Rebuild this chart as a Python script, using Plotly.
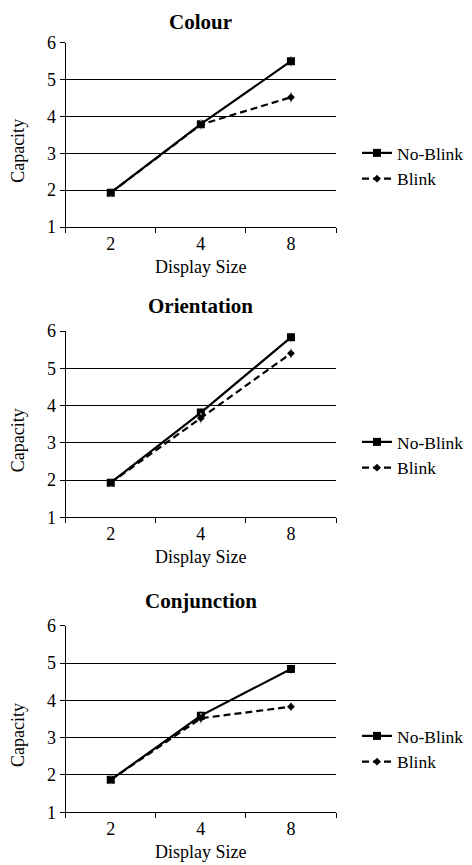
import plotly.graph_objects as go

display_sizes = ["2", "4", "8"]
panels = ["Colour", "Orientation", "Conjunction"]
no_blink = {
    "Colour": [1.93, 3.79, 5.50],
    "Orientation": [1.93, 3.81, 5.83],
    "Conjunction": [1.87, 3.59, 4.84],
}
blink = {
    "Colour": [1.93, 3.78, 4.52],
    "Orientation": [1.93, 3.66, 5.40],
    "Conjunction": [1.87, 3.52, 3.83],
}
no_blink_err = {
    "Colour": [0.12, 0.12, 0.14],
    "Orientation": [0.12, 0.12, 0.12],
    "Conjunction": [0.12, 0.12, 0.12],
}
blink_err = {
    "Colour": [0.12, 0.14, 0.15],
    "Orientation": [0.12, 0.14, 0.14],
    "Conjunction": [0.12, 0.14, 0.12],
}
y_ticks = [1, 2, 3, 4, 5, 6]

W, H = 472, 865
OFF = 8  # page body margin offset
FONT = "Liberation Serif, Times New Roman, serif"
x0, x1 = 65.7 - OFF, 336.0 - OFF
plot_tops = [42.7 - OFF, 331.0 - OFF, 625.7 - OFF]
plot_bots = [227.0 - OFF, 517.3 - OFF, 812.3 - OFF]
legend_mid = [166 - OFF, 455 - OFF, 749 - OFF]

fig = go.Figure()
annotations = []
for i, name in enumerate(panels):
    ax = "" if i == 0 else str(i + 1)
    lg = "legend" if i == 0 else f"legend{i+1}"
    fig.add_trace(go.Scatter(
        x=display_sizes, y=no_blink[name], name="No-Blink",
        mode="lines+markers", xaxis="x" + ax, yaxis="y" + ax, legend=lg,
        line=dict(color="black", width=2.2),
        marker=dict(symbol="square", size=8, color="black"),
        error_y=dict(type="data", array=no_blink_err[name], color="#b0b0b0",
                     thickness=1.5, width=0),
    ))
    fig.add_trace(go.Scatter(
        x=display_sizes, y=blink[name], name="Blink",
        mode="lines+markers", xaxis="x" + ax, yaxis="y" + ax, legend=lg,
        line=dict(color="black", width=2.2, dash="7px,4px"),
        marker=dict(symbol="diamond", size=6, color="black"),
        error_y=dict(type="data", array=blink_err[name], color="#b0b0b0",
                     thickness=1.5, width=0),
    ))
    top, bot = plot_tops[i], plot_bots[i]
    dom_y = [1 - bot / H, 1 - top / H]
    fig.update_layout(**{
        "xaxis" + ax: dict(
            domain=[x0 / W, x1 / W], type="category", anchor="y" + ax,
            tickson="boundaries", ticks="outside", ticklen=5, tickcolor="black",
            showline=True, linecolor="black", linewidth=1, showgrid=False,
            range=[-0.5, 2.5], automargin=False,
            tickfont=dict(family=FONT, size=18, color="black"),
        ),
        "yaxis" + ax: dict(
            domain=dom_y, anchor="x" + ax, range=[1, 6], tickvals=y_ticks,
            ticks="outside", ticklen=5, tickcolor="black",
            showline=True, linecolor="black", linewidth=1, automargin=False,
            showgrid=True, gridcolor="black", gridwidth=1, zeroline=False,
            tickfont=dict(family=FONT, size=18, color="black"),
        ),
        lg: dict(
            x=(357 - OFF) / W, xanchor="left", y=1 - legend_mid[i] / H, yanchor="middle",
            font=dict(family=FONT, size=17.5, color="black"),
            bgcolor="rgba(0,0,0,0)", itemwidth=30, tracegroupgap=0,
        ),
    })
    cx = (x0 + x1) / 2
    tcy = top - 25
    if tcy < 12:
        title_pos = dict(y=1.0, yanchor="top")
    else:
        title_pos = dict(y=1 - tcy / H, yanchor="middle")
    annotations.append(dict(
        text=f"<b>{name}</b>", x=cx / W, xref="paper", yref="paper",
        showarrow=False, font=dict(family=FONT, size=21, color="black"),
        xanchor="center", **title_pos))
    annotations.append(dict(
        text="Display Size", x=cx / W, y=1 - (bot + 40) / H, xref="paper", yref="paper",
        showarrow=False, font=dict(family=FONT, size=18, color="black"),
        xanchor="center", yanchor="middle"))
    annotations.append(dict(
        text="Capacity", x=(18 - OFF) / W, y=1 - ((top + bot) / 2 + 16) / H, xref="paper", yref="paper",
        showarrow=False, textangle=-90, font=dict(family=FONT, size=18, color="black"),
        xanchor="center", yanchor="middle"))

fig.update_layout(
    width=W, height=H, margin=dict(l=0, r=0, t=0, b=0, autoexpand=False),
    paper_bgcolor="white", plot_bgcolor="white",
    annotations=annotations, showlegend=True,
)
fig.write_html("out.html")
